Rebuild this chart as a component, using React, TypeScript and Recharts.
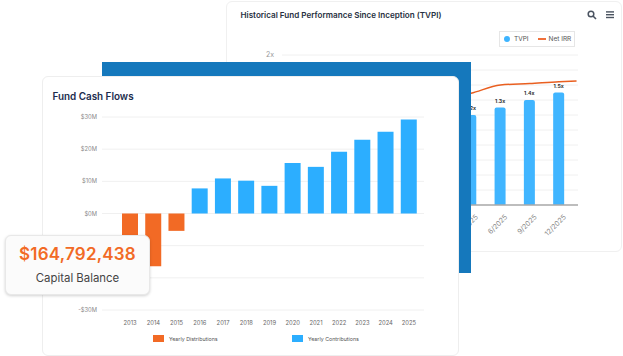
import { Bar, CartesianGrid, ComposedChart, LabelList, Legend, Line, XAxis, YAxis } from 'recharts';

const FONT = 'Inter, sans-serif';

const quarters = ['9/2023', '12/2023', '3/2024', '6/2024', '9/2024', '12/2024', '3/2025', '6/2025', '9/2025', '12/2025'];
const tvpi = [1.0, 1.0, 1.05, 1.1, 1.1, 1.15, 1.2, 1.3, 1.4, 1.5];
const netIrr = [1.1, 1.16, 1.22, 1.28, 1.33, 1.4, 1.49, 1.6, 1.62, 1.644];
// the IRR line runs a little past the last bar
const irrEndPosition = 9.6;
const irrEnd = 1.653;
const tvpiTicks = [0, 0.2, 0.4, 0.6, 0.8, 1, 1.2, 1.4, 1.6, 1.8, 2];

const years = ['2013', '2014', '2015', '2016', '2017', '2018', '2019', '2020', '2021', '2022', '2023', '2024', '2025'];
const distributions = [-14, -16.4, -5.4, null, null, null, null, null, null, null, null, null, null];
const contributions = [null, null, null, 7.8, 10.9, 10.2, 8.6, 15.7, 14.5, 19.2, 22.9, 25.4, 29.2];
const cashTicks = [-30, -20, -10, 0, 10, 20, 30];
// these two labels sit under the balance callout in the picture
const coveredCashTicks = [-20, -10];

const performanceData: { pos: number; tvpi?: number; irr: number }[] = quarters.map((_, i) => ({
    pos: i,
    tvpi: tvpi[i],
    irr: netIrr[i]
}));
performanceData.push({ pos: irrEndPosition, irr: irrEnd });

const cashData = years.map((year, i) => ({
    year,
    distributions: distributions[i],
    contributions: contributions[i]
}));

const money = (v: number) => {
    if (coveredCashTicks.includes(v)) return '';
    return v < 0 ? `-$${-v}M` : `$${v}M`;
};

const PerformanceLegend = () => (
    <div style={{ position: 'relative', height: 16, boxSizing: 'border-box', border: '1px solid #e6e6e6', fontSize: 6.5, color: '#555', fontFamily: FONT, lineHeight: '14px' }}>
        <span style={{ position: 'absolute', left: 4, top: 4, width: 6, height: 6, borderRadius: 3, background: '#3db4ff' }} />
        <span style={{ position: 'absolute', left: 14, top: 0, whiteSpace: 'nowrap' }}>TVPI</span>
        <span style={{ position: 'absolute', left: 38, top: 6, width: 7.5, height: 2, background: '#f0703a' }} />
        <span style={{ position: 'absolute', left: 48.5, top: 0, whiteSpace: 'nowrap' }}>Net IRR</span>
    </div>
);

const CashLegend = () => (
    <div style={{ position: 'relative', height: 10, fontSize: 5.3, color: '#555', fontFamily: FONT, lineHeight: '10px' }}>
        <span style={{ position: 'absolute', left: 0, top: 1, width: 11, height: 7, background: '#f26a25' }} />
        <span style={{ position: 'absolute', left: 16, top: 0, whiteSpace: 'nowrap' }}>Yearly Distributions</span>
        <span style={{ position: 'absolute', left: 139, top: 1, width: 11, height: 7, background: '#2caeff' }} />
        <span style={{ position: 'absolute', left: 155, top: 0, whiteSpace: 'nowrap' }}>Yearly Contributions</span>
    </div>
);

const abs = (left: number, top: number, width: number, height: number) => ({
    position: 'absolute' as const,
    left,
    top,
    width,
    height
});

export default function App() {
    return (
        <div style={{ position: 'fixed', left: 0, top: 0, width: 623, height: 356, overflow: 'hidden', background: '#fff', fontFamily: FONT }}>
            {/* back card */}
            <div style={{ ...abs(226, 1, 396, 251), boxSizing: 'border-box', border: '1px solid #f0f0f0', borderRadius: 6 }} />
            <div style={{ position: 'absolute', left: 240.5, top: 9, fontSize: 8.1, fontWeight: 600, color: '#263041', whiteSpace: 'nowrap', lineHeight: '12px' }}>
                Historical Fund Performance Since Inception (TVPI)
            </div>
            <svg style={abs(586, 9, 30, 12)} viewBox="0 0 30 12">
                <circle cx="5" cy="5" r="2.8" fill="none" stroke="#4a5360" strokeWidth="1.5" />
                <line x1="7" y1="7" x2="10" y2="10" stroke="#4a5360" strokeWidth="1.6" />
                <rect x="20" y="2.2" width="8" height="1.4" fill="#4a5360" />
                <rect x="20" y="5" width="8" height="1.4" fill="#4a5360" />
                <rect x="20" y="7.8" width="8" height="1.4" fill="#4a5360" />
            </svg>
            <div style={abs(0, 0, 623, 356)}>
                <ComposedChart width={623} height={356} data={performanceData} margin={{ top: 55, right: 45, bottom: 111, left: 262 }}>
                    <CartesianGrid vertical={false} stroke="#f0f0f0" />
                    <XAxis
                        dataKey="pos"
                        type="number"
                        domain={[-0.454, 9.65]}
                        ticks={quarters.map((_, i) => i)}
                        tickFormatter={(i: number) => quarters[i] ?? ''}
                        interval={0}
                        height={40}
                        angle={-45}
                        textAnchor="end"
                        tickLine={false}
                        axisLine={{ stroke: '#aaaaaa', strokeWidth: 1.5 }}
                        tick={{ fontSize: 7, fill: '#888', dx: 4, dy: 1 }}
                    />
                    <YAxis
                        width={20}
                        domain={[0, 2]}
                        ticks={tvpiTicks}
                        interval={0}
                        tickFormatter={(v: number) => `${v}x`}
                        axisLine={false}
                        tickLine={false}
                        tick={{ fontSize: 7, fill: '#999' }}
                    />
                    <Legend layout="horizontal" verticalAlign="middle" content={<PerformanceLegend />} wrapperStyle={{ left: 499, top: 31, width: 76, height: 16 }} />
                    <Bar dataKey="tvpi" fill="#40b5ff" barSize={11} radius={[2, 2, 0, 0]} isAnimationActive={false}>
                        <LabelList dataKey="tvpi" position="top" formatter={(v: any) => `${v}x`} style={{ fontSize: 5.2, fontWeight: 700, fill: '#333' }} />
                    </Bar>
                    <Line dataKey="irr" type="monotone" stroke="#e95f20" strokeWidth={1.4} dot={false} isAnimationActive={false} />
                </ComposedChart>
            </div>

            {/* blue block between the cards */}
            <div style={{ ...abs(102, 62, 369, 211), background: '#1578bc' }} />

            {/* front card */}
            <div style={{ ...abs(42, 76, 417, 280), boxSizing: 'border-box', background: '#fff', border: '1px solid #eeeeee', borderRadius: 6 }} />
            <div style={{ position: 'absolute', left: 52.5, top: 88.5, fontSize: 9.9, fontWeight: 600, color: '#1b2c4d', whiteSpace: 'nowrap', lineHeight: '14px' }}>
                Fund Cash Flows
            </div>
            <div style={abs(0, 0, 623, 356)}>
                <ComposedChart width={623} height={356} data={cashData} stackOffset="sign" margin={{ top: 117, right: 199, bottom: 16, left: 72 }}>
                    <CartesianGrid vertical={false} stroke="#f0f0f0" />
                    <XAxis
                        dataKey="year"
                        interval={0}
                        height={30}
                        padding={{ left: 16, right: 4 }}
                        axisLine={false}
                        tickLine={false}
                        tick={{ fontSize: 5.8, fill: '#666', dx: 0.5, dy: 3 }}
                    />
                    <YAxis
                        width={30}
                        domain={[-30, 30]}
                        ticks={cashTicks}
                        interval={0}
                        tickFormatter={money}
                        axisLine={false}
                        tickLine={false}
                        tick={{ fontSize: 5.8, fill: '#888', dx: 3 }}
                    />
                    <Legend layout="horizontal" verticalAlign="middle" content={<CashLegend />} wrapperStyle={{ left: 153, top: 334, width: 300, height: 10 }} />
                    <Bar dataKey="distributions" stackId="flow" fill="#f26a25" barSize={16} isAnimationActive={false} />
                    <Bar dataKey="contributions" stackId="flow" fill="#2caeff" barSize={16} isAnimationActive={false} />
                </ComposedChart>
            </div>

            {/* balance callout */}
            <div style={{ ...abs(5, 235, 145, 60), boxSizing: 'border-box', background: '#fbfbfb', border: '1px solid #e8e8e8', borderRadius: 6, boxShadow: '0 1px 3px rgba(0,0,0,0.18)', textAlign: 'center' }}>
                <div style={{ marginTop: 6.5, fontSize: 17, fontWeight: 600, color: '#f26a25', lineHeight: '22px', letterSpacing: 0.2 }}>$164,792,438</div>
                <div style={{ marginTop: 5.5, fontSize: 11.4, color: '#444', lineHeight: '17px' }}>Capital Balance</div>
            </div>
        </div>
    );
}
